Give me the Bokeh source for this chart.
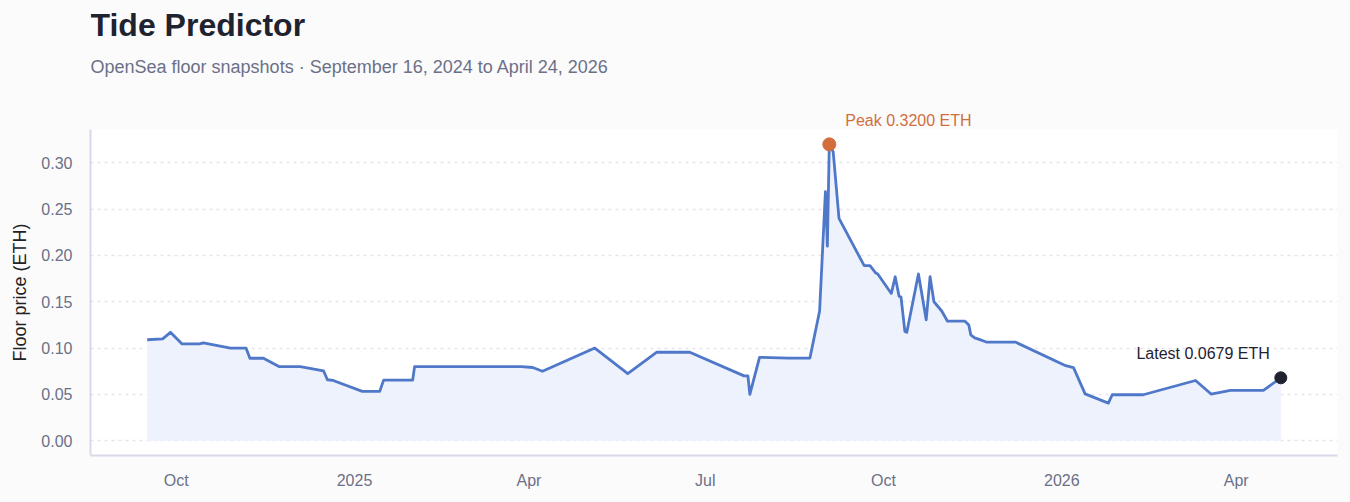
import pandas as pd
from bokeh.plotting import figure
from bokeh.layouts import column
from bokeh.models import (Range1d, FixedTicker, NumeralTickFormatter, Label,
                          ColumnDataSource)
from bokeh.embed import file_html
from bokeh.resources import INLINE

# ---- data -------------------------------------------------------------
snapshot_dates = [
    "2024-09-16", "2024-09-24", "2024-09-28", "2024-10-04", "2024-10-13",
    "2024-10-15", "2024-10-29", "2024-11-06", "2024-11-08", "2024-11-15",
    "2024-11-23", "2024-12-04", "2024-12-16", "2024-12-18", "2024-12-21",
    "2025-01-05", "2025-01-14", "2025-01-16", "2025-01-31", "2025-02-01",
    "2025-03-28", "2025-04-03", "2025-04-08", "2025-05-05", "2025-05-22",
    "2025-06-06", "2025-06-23", "2025-07-21", "2025-07-23", "2025-07-24",
    "2025-07-29", "2025-08-13", "2025-08-24", "2025-08-29", "2025-09-01",
    "2025-09-02", "2025-09-03", "2025-09-05", "2025-09-08", "2025-09-21",
    "2025-09-24", "2025-09-27", "2025-09-28", "2025-10-05", "2025-10-07",
    "2025-10-09", "2025-10-10", "2025-10-12", "2025-10-13", "2025-10-19",
    "2025-10-23", "2025-10-25", "2025-10-27", "2025-10-31", "2025-11-03",
    "2025-11-12", "2025-11-14", "2025-11-15", "2025-11-17", "2025-11-19",
    "2025-11-23", "2025-12-08", "2026-01-03", "2026-01-07", "2026-01-13",
    "2026-01-25", "2026-01-27", "2026-02-12", "2026-03-11", "2026-03-19",
    "2026-03-29", "2026-04-15", "2026-04-24",
]
floor_eth = [
    0.109, 0.110, 0.117, 0.1045, 0.1045,
    0.1055, 0.100, 0.100, 0.089, 0.089,
    0.080, 0.080, 0.0755, 0.0658, 0.065,
    0.0532, 0.0532, 0.0654, 0.0654, 0.080,
    0.080, 0.079, 0.075, 0.100, 0.0723,
    0.0955, 0.0955, 0.070, 0.070, 0.050,
    0.090, 0.0892, 0.0892, 0.140, 0.269,
    0.210, 0.320, 0.312, 0.240, 0.189,
    0.189, 0.181, 0.180, 0.159, 0.177,
    0.156, 0.155, 0.118, 0.117, 0.180,
    0.1305, 0.177, 0.150, 0.140, 0.129,
    0.129, 0.125, 0.1143, 0.111, 0.1096,
    0.1065, 0.1065, 0.081, 0.079, 0.0505,
    0.0405, 0.0496, 0.0496, 0.065, 0.0504,
    0.0543, 0.0543, 0.0679,
]
y_ticks = [0.0, 0.05, 0.10, 0.15, 0.20, 0.25, 0.30]
x_tick_dates = ["2024-10-01", "2025-01-01", "2025-04-01", "2025-07-01",
                "2025-10-01", "2026-01-01", "2026-04-01"]
x_tick_labels = ["Oct", "2025", "Apr", "Jul", "Oct", "2026", "Apr"]

title_text = "Tide Predictor"
subtitle_text = "OpenSea floor snapshots \u00b7 September 16, 2024 to April 24, 2026"
y_label = "Floor price (ETH)"

# ---- styling ----------------------------------------------------------
FONT = "Liberation Sans"
LINE = "#4f78c9"
FILL = "#edf2fd"
PEAK = "#d26e3e"
DARK = "#1f2330"
MUTED = "#6b7087"
PAGE_BG = "#fbfbfc"
W, H_TOP, H_MAIN = 1350, 129, 373
M_LEFT, M_RIGHT = 90, 13

x = pd.to_datetime(snapshot_dates)
src = ColumnDataSource(dict(x=x, y=floor_eth))

def ms(d):
    return pd.Timestamp(d).value / 1e6

x0, x1 = ms(x.min()), ms(x.max())
span = x1 - x0
ymax = max(floor_eth)
i_peak = floor_eth.index(ymax)
peak_x = ms(x[i_peak])
last_x = ms(x[-1])

xr = Range1d(x0 - 0.05 * span, x1 + 0.05 * span)

# ---- header strip (title, subtitle, peak annotation) -------------------
top = figure(width=W, height=H_TOP, x_range=xr, y_range=Range1d(0, H_TOP),
             output_backend="svg", toolbar_location=None,
             min_border_left=M_LEFT, min_border_right=M_RIGHT,
             min_border_top=0, min_border_bottom=0)
top.axis.visible = False
top.grid.visible = False
top.background_fill_color = PAGE_BG
top.border_fill_color = PAGE_BG
top.outline_line_color = None

top.add_layout(Label(x=0, y=H_TOP - 24, x_units="screen", y_units="screen",
                     text=title_text, text_color=DARK, text_font=FONT,
                     text_font_size="32px", text_font_style="bold",
                     text_baseline="middle"))
top.add_layout(Label(x=0, y=H_TOP - 66, x_units="screen", y_units="screen",
                     text=subtitle_text, text_color=MUTED, text_font=FONT,
                     text_font_size="18px", text_baseline="middle"))
top.add_layout(Label(x=peak_x, y=H_TOP - 120, y_units="screen", x_offset=16,
                     text=f"Peak {ymax:.4f} ETH", text_color=PEAK,
                     text_font=FONT, text_font_size="16px",
                     text_baseline="middle", text_align="left"))

# ---- main chart -------------------------------------------------------
p = figure(width=W, height=H_MAIN, x_axis_type="datetime",
           output_backend="svg", toolbar_location=None,
           x_range=xr, y_range=Range1d(-0.05 * ymax, 1.05 * ymax),
           min_border_left=M_LEFT, min_border_right=M_RIGHT,
           min_border_top=0, min_border_bottom=47)
p.background_fill_color = "white"
p.border_fill_color = PAGE_BG
p.outline_line_color = None

p.varea(x="x", y1=0, y2="y", source=src, fill_color=FILL, fill_alpha=1.0)
p.line(x="x", y="y", source=src, line_color=LINE, line_width=2.8,
       line_join="round")

p.scatter([peak_x], [ymax], size=13, fill_color=PEAK, line_color=PEAK)
p.scatter([last_x], [floor_eth[-1]], size=12, fill_color=DARK, line_color=DARK)

p.add_layout(Label(x=last_x, y=floor_eth[-1], x_offset=-11, y_offset=24,
                   text=f"Latest {floor_eth[-1]:.4f} ETH", text_color=DARK,
                   text_font=FONT, text_font_size="16px",
                   text_baseline="middle", text_align="right"))

tick_ms = [ms(d) for d in x_tick_dates]
p.xaxis.ticker = FixedTicker(ticks=tick_ms)
p.xaxis.major_label_overrides = {t: lab for t, lab in zip(tick_ms, x_tick_labels)}
p.yaxis.ticker = FixedTicker(ticks=y_ticks)
p.yaxis.formatter = NumeralTickFormatter(format="0.00")
p.yaxis.axis_label = y_label

for ax in (p.xaxis, p.yaxis):
    ax.axis_line_color = "#d7d9ea"
    ax.axis_line_width = 2
    ax.major_tick_line_color = None
    ax.minor_tick_line_color = None
    ax.major_tick_in = 0
    ax.major_tick_out = 0
    ax.minor_tick_out = 0
    ax.major_label_text_font = FONT
    ax.major_label_text_font_size = "16px"
    ax.major_label_text_color = MUTED
p.xaxis.major_label_standoff = 16
p.yaxis.major_label_standoff = 18
p.yaxis.axis_label_text_font = FONT
p.yaxis.axis_label_text_font_size = "18px"
p.yaxis.axis_label_text_font_style = "normal"
p.yaxis.axis_label_text_color = "#222222"
p.yaxis.axis_label_standoff = 8

p.xgrid.grid_line_color = None
p.ygrid.grid_line_color = "#e3e5ee"
p.ygrid.grid_line_dash = "3 4"
p.ygrid.grid_line_width = 1.5

layout = column(top, p, spacing=0, styles={"background-color": PAGE_BG})
open("out.html", "w").write(file_html(layout, INLINE))
